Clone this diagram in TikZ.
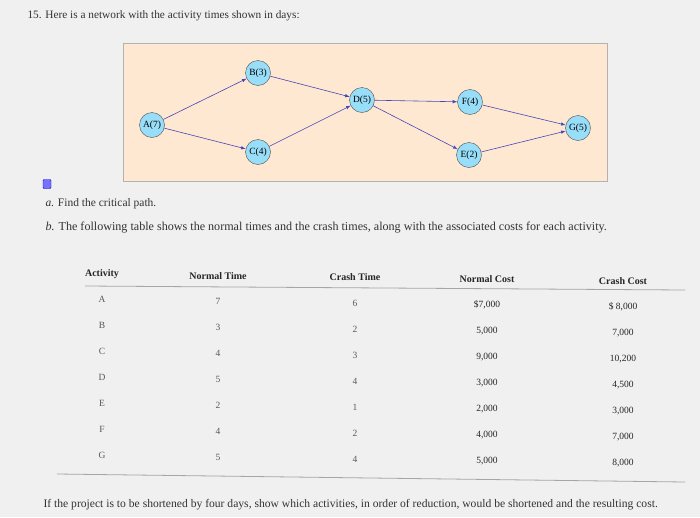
\documentclass[tikz,border=0pt]{standalone}
\usepackage{fontspec}
\setmainfont{Liberation Serif}
\begin{document}
\begin{tikzpicture}[x=1pt,y=-1pt,
  act/.style={circle,draw=gray!60!black,fill=cyan!40!white,minimum size=25pt,inner sep=0pt,font=\fontsize{9.5}{10}\selectfont},
  arr/.style={-latex,draw=blue!45!gray,semithick},
  txt/.style={anchor=west,font=\fontsize{12}{13}\selectfont,text=black!80},
  hd/.style={font=\bfseries\fontsize{10}{11}\selectfont,text=black!85},
  cell/.style={font=\fontsize{9.5}{10}\selectfont,text=black!65}]
\fill[gray!12] (0,0) rectangle (700,517);
\useasboundingbox (0,0) rectangle (700,517);
\node[txt,font=\fontsize{11.3}{12}\selectfont] (title) at (24,16) {15. Here is a network with the activity times shown in days:};
\draw[gray!60,fill=orange!18!white] (123,43) rectangle (607,181);
\node[act] (A) at (152,125) {A(7)};
\node[act] (B) at (258,73) {B(3)};
\node[act] (C) at (258,152) {C(4)};
\node[act] (D) at (362,100) {D(5)};
\node[act] (F) at (470,102) {F(4)};
\node[act] (E) at (469,155) {E(2)};
\node[act] (G) at (578,128) {G(5)};
\draw[arr] (A)--(B); \draw[arr] (A)--(C); \draw[arr] (B)--(D); \draw[arr] (C)--(D);
\draw[arr] (D)--(F); \draw[arr] (D)--(E); \draw[arr] (F)--(G); \draw[arr] (E)--(G);
\node[draw=blue!70!black,fill=blue!55,minimum width=8pt,minimum height=9pt,inner sep=0pt,rounded corners=1pt] (icon) at (47,184) {};
\node[txt,font=\fontsize{11.5}{12}\selectfont] (qa) at (42,204) {\textit{a.} Find the critical path.};
\node[txt,font=\fontsize{12.1}{13}\selectfont] (qb) at (42,228) {\textit{b.} The following table shows the normal times and the crash times, along with the associated costs for each activity.};
\node[hd] (h1) at (102,274) {Activity};
\node[hd] (h2) at (218,276) {Normal Time};
\node[hd] (h3) at (355,277) {Crash Time};
\node[hd] (h4) at (487,279) {Normal Cost};
\node[hd] (h5) at (623,281) {Crash Cost};
\draw[gray!70,thick] (85,286) -- (685,290);
\foreach \a/\n/\c/\nc/\cc [count=\i] in {A/7/6/{\$7,000}/{\$ 8,000},B/3/2/{5,000}/{7,000},C/4/3/{9,000}/{10,200},D/5/4/{3,000}/{4,500},E/2/1/{2,000}/{3,000},F/4/2/{4,000}/{7,000},G/5/4/{5,000}/{8,000}}{
  \node[cell] (a\i) at (102,273+26*\i) {\a};
  \node[cell] (n\i) at (218,275+26*\i) {\n};
  \node[cell] (c\i) at (355,277+26*\i) {\c};
  \node[cell,text=black!85] (nc\i) at (487,279+26*\i) {\nc};
  \node[cell,text=black!85] (cc\i) at (623,281+26*\i) {\cc};
}
\draw[gray!70,thick] (57,474) -- (685,482);
\node[txt,font=\fontsize{11.6}{12}\selectfont] (last) at (40,505) {If the project is to be shortened by four days, show which activities, in order of reduction, would be shortened and the resulting cost.};
\end{tikzpicture}
\end{document}
